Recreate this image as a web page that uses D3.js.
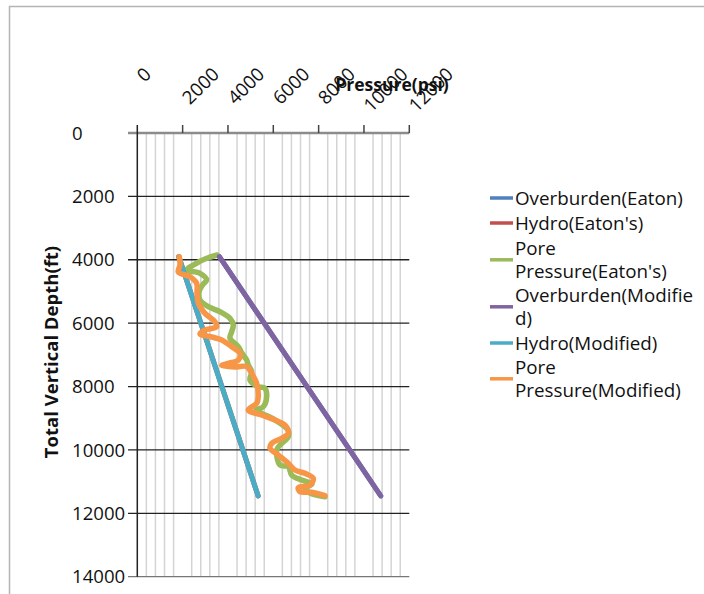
<!DOCTYPE html>
<html>
<head>
<meta charset="utf-8">
<script src="https://cdn.jsdelivr.net/npm/d3@7"></script>
<style>
  body { margin: 0; background: #fff; }
  svg { font-family: "Open Sans", sans-serif; }
</style>
</head>
<body>
<svg id="chart" width="704" height="594"></svg>
<script>
// tick values
var depthTicks = [0, 2000, 4000, 6000, 8000, 10000, 12000, 14000];
var pressureTicks = [0, 2000, 4000, 6000, 8000, 10000, 12000];

// straight trend lines (depth ft, pressure psi)
var overburdenDepth = [3900, 11450];
var overburdenEaton = [3620, 10740];
var overburdenModified = [3620, 10740];
var hydroDepth = [3900, 11450];
var hydroEaton = [1830, 5330];
var hydroModified = [1830, 5330];

// pore pressure, Eaton's
var poreEatonDepth = [3850, 3954, 4134, 4322, 4427, 4638, 4765, 5017, 5270, 5481, 5639, 5847, 6059, 6270, 6478,
    6743, 6952, 7163, 7321, 7532, 7794, 8006, 8056, 8321, 8637, 8741, 8994, 9372, 9583, 9845, 10003, 10476,
    10530, 10792, 10950, 11076, 11202, 11360, 11477];
var poreEatonP = [3529, 3061, 2545, 2179, 2766, 3061, 2911, 2722, 2766, 3132, 3648, 4089, 4235, 4164, 4089,
    4455, 4618, 4826, 4896, 5046, 4971, 5337, 5633, 5708, 5558, 5236, 5942, 6648, 6661, 6295, 6149, 6295,
    6661, 6811, 7252, 7706, 7398, 7618, 8280];

// pore pressure, modified
var poreModDepth = [3903, 4165, 4386, 4535, 4743, 5049, 5374, 5690, 5955, 6112, 6217, 6343, 6437, 6532, 6743,
    6952, 7163, 7267, 7337, 7384, 7370, 7583, 7898, 8321, 8530, 8741, 8899, 9057, 9214, 9476, 9634, 9792,
    9949, 10161, 10423, 10634, 10739, 10896, 11108, 11187, 11319, 11338, 11445];
var poreModP = [1853, 1884, 1809, 2325, 2620, 2633, 2691, 2986, 3427, 3502, 2986, 2766, 3282, 3723, 4164,
    4530, 4455, 4014, 3723, 4310, 4826, 5046, 5267, 5337, 5267, 4896, 5487, 6074, 6515, 6661, 6370, 5929,
    5854, 6220, 6661, 6956, 7397, 7764, 7618, 7102, 7177, 7693, 8280];

var seriesColors = ["#4F81BD", "#C0504D", "#9BBB59", "#8064A2", "#4BACC6", "#F79646"];

var svg = d3.select("#chart");

var x = d3.scaleLinear().domain([0, 12000]).range([137.3, 409.3]);
var y = d3.scaleLinear().domain([0, 14000]).range([133, 576.7]);

// chart frame
svg.append("rect")
    .attr("x", 9.5).attr("y", 6.5)
    .attr("width", 720).attr("height", 620)
    .attr("fill", "none")
    .attr("stroke", "#b4b4b4")
    .attr("stroke-width", 1.5);

// minor vertical gridlines every 400 psi (skipping major)
var minor = d3.range(400, 12000, 400).filter(function (v) { return v % 2000 !== 0; });
svg.append("g").selectAll("line")
    .data(minor)
    .enter().append("line")
    .attr("x1", function (d) { return x(d); })
    .attr("x2", function (d) { return x(d); })
    .attr("y1", y(0)).attr("y2", y(14000))
    .attr("stroke", "#d4d4d4")
    .attr("stroke-width", 1.5);

// major horizontal gridlines
svg.append("g").selectAll("line")
    .data(depthTicks.slice(1))
    .enter().append("line")
    .attr("x1", 128).attr("x2", x(12000))
    .attr("y1", function (d) { return y(d); })
    .attr("y2", function (d) { return y(d); })
    .attr("stroke", function (d) { return d === 14000 ? "#777" : "#222"; })
    .attr("stroke-width", 1.3);

// x axis (top)
svg.append("line")
    .attr("x1", 128).attr("x2", x(12000))
    .attr("y1", y(0)).attr("y2", y(0))
    .attr("stroke", "#8c8c8c").attr("stroke-width", 2.5);
svg.append("g").selectAll("line")
    .data(pressureTicks.slice(1))
    .enter().append("line")
    .attr("x1", function (d) { return x(d); })
    .attr("x2", function (d) { return x(d); })
    .attr("y1", y(0) - 8).attr("y2", y(0))
    .attr("stroke", "#444").attr("stroke-width", 1.5);

// y axis (left)
svg.append("line")
    .attr("x1", x(0)).attr("x2", x(0))
    .attr("y1", 125).attr("y2", y(14000))
    .attr("stroke", "#222").attr("stroke-width", 1.5);

// y tick labels
svg.append("g").selectAll("text")
    .data(depthTicks)
    .enter().append("text")
    .attr("x", 72)
    .attr("y", function (d) { return y(d); })
    .attr("dy", "0.36em")
    .attr("font-size", 18.6)
    .attr("fill", "#111")
    .text(function (d) { return d; });

// x tick labels, rotated
var fs = 18.6, asc = 0.72 * fs;
svg.append("g").selectAll("text")
    .data(pressureTicks)
    .enter().append("text")
    .attr("font-size", fs)
    .attr("fill", "#111")
    .text(function (d) { return d; })
    .attr("transform", function (d) {
        var L = this.getComputedTextLength();
        var x0 = x(d) - 2 + 0.707 * asc;
        var y0 = 66 + 0.707 * (L + asc);
        return "translate(" + x0 + "," + y0 + ") rotate(-45)";
    });

// axis titles
svg.append("text")
    .attr("x", 392).attr("y", 91)
    .attr("text-anchor", "middle")
    .attr("font-size", 17.5)
    .attr("font-weight", "bold")
    .attr("fill", "#111")
    .text("Pressure(psi)");

svg.append("text")
    .attr("transform", "translate(58,352) rotate(-90)")
    .attr("text-anchor", "middle")
    .attr("font-size", 18.5)
    .attr("font-weight", "bold")
    .attr("fill", "#111")
    .text("Total Vertical Depth(ft)");

// series
function pts(depths, pressures) {
    return depths.map(function (d, i) { return [pressures[i], d]; });
}
var series = [
    pts(overburdenDepth, overburdenEaton),
    pts(hydroDepth, hydroEaton),
    pts(poreEatonDepth, poreEatonP),
    pts(overburdenDepth, overburdenModified),
    pts(hydroDepth, hydroModified),
    pts(poreModDepth, poreModP)
];

var line = d3.line()
    .x(function (d) { return x(d[0]); })
    .y(function (d) { return y(d[1]); })
    .curve(d3.curveCatmullRom.alpha(0.5));

svg.append("g").selectAll("path")
    .data(series)
    .enter().append("path")
    .attr("d", line)
    .attr("fill", "none")
    .attr("stroke", function (d, i) { return seriesColors[i]; })
    .attr("stroke-width", function (d, i) { return (i === 2 || i === 5) ? 5.5 : 5; })
    .attr("stroke-linejoin", "round")
    .attr("stroke-linecap", "round");

// legend
var legendRows = [
    {lines: ["Overburden(Eaton)"], y: 198},
    {lines: ["Hydro(Eaton's)"], y: 223},
    {lines: ["Pore", "Pressure(Eaton's)"], y: 248},
    {lines: ["Overburden(Modifie", "d)"], y: 295},
    {lines: ["Hydro(Modified)"], y: 343},
    {lines: ["Pore", "Pressure(Modified)"], y: 367}
];
var lg = svg.append("g").selectAll("g")
    .data(legendRows)
    .enter().append("g");

lg.append("line")
    .attr("x1", 490).attr("x2", 513)
    .attr("y1", function (d) { return d.y + (d.lines.length - 1) * 11.8; })
    .attr("y2", function (d) { return d.y + (d.lines.length - 1) * 11.8; })
    .attr("stroke", function (d, i) { return seriesColors[i]; })
    .attr("stroke-width", 3.5);

lg.each(function (d) {
    var t = d3.select(this).append("text")
        .attr("font-size", 18.8)
        .attr("fill", "#111");
    d.lines.forEach(function (s, k) {
        t.append("tspan")
            .attr("x", 515)
            .attr("y", d.y + k * 23.6)
            .attr("dy", "0.36em")
            .text(s);
    });
});
</script>
</body>
</html>
